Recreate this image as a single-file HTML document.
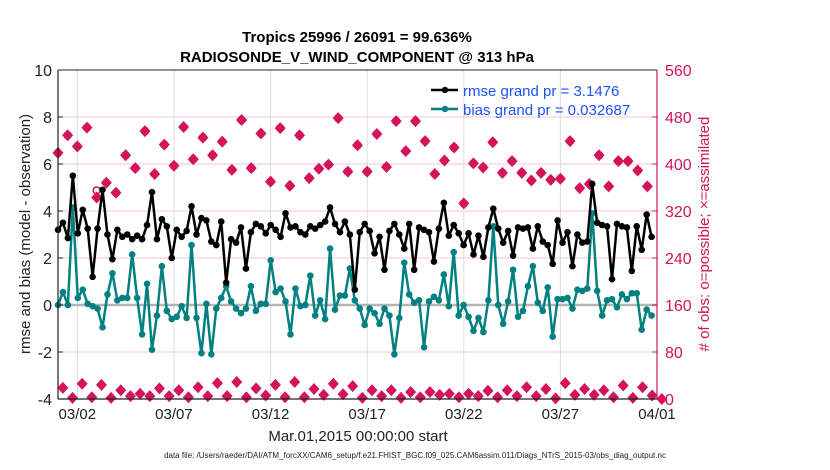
<!DOCTYPE html>
<html><head><meta charset="utf-8">
<style>
body{margin:0;background:#fff;}
svg{display:block;font-family:"Liberation Sans",Arial,sans-serif;}
</style></head>
<body>
<svg id="chart" width="830" height="470" viewBox="0 0 830 470">
<rect width="830" height="470" fill="#fff"/>
<g id="grid"></g>
<g id="counts"></g>
<g id="series"></g>
<g id="axes"></g>
<text x="357" y="42" text-anchor="middle" font-size="15" font-weight="bold">Tropics 25996 / 26091 = 99.636%</text>
<text x="357" y="62" text-anchor="middle" font-size="15" font-weight="bold">RADIOSONDE_V_WIND_COMPONENT @ 313 hPa</text>
<text x="358" y="441" text-anchor="middle" font-size="15" fill="#222">Mar.01,2015 00:00:00 start</text>
<text x="415" y="458" text-anchor="middle" font-size="8" fill="#222">data file: /Users/raeder/DAI/ATM_forcXX/CAM6_setup/f.e21.FHIST_BGC.f09_025.CAM6assim.011/Diags_NTrS_2015-03/obs_diag_output.nc</text>
<text transform="translate(30,234) rotate(-90)" text-anchor="middle" font-size="15" fill="#222">rmse and bias (model - observation)</text>
<text transform="translate(709,234) rotate(-90)" text-anchor="middle" font-size="15" fill="#d4145a"># of obs: o=possible; ×=assimilated</text>
<g>
<line x1="431" y1="90" x2="458" y2="90" stroke="#000" stroke-width="2.5"/>
<circle cx="445" cy="90" r="3.2" fill="#000"/>
<text x="463" y="96" font-size="15" fill="#1a53ff">rmse grand pr = 3.1476</text>
<line x1="431" y1="109" x2="458" y2="109" stroke="#008080" stroke-width="2.5"/>
<circle cx="445" cy="109" r="3.2" fill="#008080"/>
<text x="463" y="115" font-size="15" fill="#1a53ff">bias grand pr = 0.032687</text>
</g>
</svg>
<script>
const rmse = [3.2,3.5,2.85,5.5,3.05,4.05,3.25,1.2,3.25,4.9,3.0,1.95,3.2,2.9,3.0,2.8,2.95,2.8,3.4,4.8,2.8,3.65,3.35,2.0,3.2,2.9,3.15,4.2,3.0,3.7,3.6,2.7,
2.55,3.55,0.95,2.8,2.65,3.3,1.55,3.1,3.45,3.35,3.05,3.4,3.2,2.9,3.9,3.3,3.35,3.1,3.0,3.35,3.25,3.4,3.55,4.15,3.45,3.1,3.55,3.0,0.65,
3.1,3.45,3.15,2.2,2.9,1.5,3.15,3.45,3.0,2.4,3.45,1.5,3.3,3.2,3.1,1.85,3.25,4.35,2.95,3.4,3.05,2.55,3.05,2.15,2.95,2.05,3.3,4.1,3.25,2.65,
3.15,2.1,3.3,3.25,3.3,2.4,3.35,2.7,2.55,1.75,3.6,2.65,3.1,1.65,3.0,2.65,2.7,5.15,3.5,3.4,3.35,1.1,3.45,3.35,3.3,1.45,3.35,2.35,3.85,2.9];
const bias = [0,0.55,0,4.15,0.3,0.65,0.05,-0.05,-0.15,-0.95,0.45,1.35,0.2,0.3,0.3,2.15,0.3,-1.25,0.9,-1.9,-0.45,1.65,-0.25,-0.6,-0.5,-0.05,-0.55,2.55,-0.55,-2.05,0.05,-2.1,
-0.15,0.3,0.8,0.15,-0.15,-0.35,-0.15,0.8,-0.25,0.05,0.05,1.9,0.55,0.7,0.15,-1.25,0.7,-0.05,0,1.25,-0.45,0.2,-0.6,2.4,-0.2,0.4,0.4,1.55,0.2,
-0.15,-0.85,-0.15,-0.35,-0.8,-0.15,-0.45,-2.1,-0.55,1.8,0.45,0.1,0.2,-1.8,0.15,0.35,0.2,1.3,-0.05,2.25,-0.45,0,-0.5,-1.1,-0.55,-1.15,0.2,3.35,0,-0.8,
0.15,1.5,-0.5,-0.25,0.8,1.65,0.1,-0.25,0.75,-1.35,0.25,0.25,0.3,-0.15,0.65,0.6,0.7,3.9,0.6,-0.45,0.2,0.25,-0.1,0.45,0.25,0.5,0.5,-1.05,-0.2,-0.45];
const possibleHigh = [419,449,430,462,355,368,351,415,393,456,383,433,397,463,408,445,
415,438,390,475,393,452,370,461,363,449,376,392,399,478,387,432,
387,451,395,473,422,473,439,383,406,428,333,401,394,437,385,
405,385,372,385,373,375,439,359,366,415,362,405,405,389,362];
const assimHigh = [419,449,430,462,343,368,351,415,393,456,383,433,397,463,408,445,
415,438,390,475,393,452,370,461,363,449,376,392,399,478,387,432,
387,451,395,473,422,473,439,383,406,428,333,401,394,437,385,
405,385,372,385,373,375,439,359,366,415,362,405,405,389,362];
const countsLow = [19,2,26,3,24,2,15,5,9,5,18,5,15,3,20,5,
27,5,29,3,18,6,24,3,29,3,17,7,26,8,22,
2,15,5,15,2,12,3,12,7,9,3,9,5,14,3,15,
5,20,5,17,1,27,7,17,7,15,3,23,2,20,6,0];
const xTickLabels = ["03/02","03/07","03/12","03/17","03/22","03/27","04/01"];
const xTickDays = [1,6,11,16,21,26,31];
const yTickLeft = [-4,-2,0,2,4,6,8,10];
const yTickRight = [0,80,160,240,320,400,480,560];
const seriesStepDays = 0.256;

const L=58,R=657,T=70,B=399;
const NS='http://www.w3.org/2000/svg';
const xs=d=>L+d*(R-L)/31;
const yl=v=>B-(v+4)*(B-T)/14;
const yr=c=>B-c*(B-T)/560;
function mk(tag,attrs,parent){const e=document.createElementNS(NS,tag);for(const k in attrs)e.setAttribute(k,attrs[k]);parent.appendChild(e);return e;}
const grid=document.getElementById('grid'),axes=document.getElementById('axes'),cnt=document.getElementById('counts'),ser=document.getElementById('series');

yTickLeft.forEach(v=>{
  if(v>-4&&v<10&&v!==0){const g=mk('line',{x1:L,x2:R,y1:yl(v),y2:yl(v),stroke:'#f4c6d6','stroke-width':1},grid);
  
  }
  const t=mk('text',{x:L-6,y:yl(v)+6,'text-anchor':'end','font-size':16,fill:'#222'},axes);t.textContent=v;
  
  
  mk('line',{x1:L,x2:L+5,y1:yl(v),y2:yl(v),stroke:'#222'},axes);
});
yTickRight.forEach(c=>{
  const t=mk('text',{x:R+8,y:yr(c)+6,'font-size':16,fill:'#d4145a'},axes);t.textContent=c;
  
  
  mk('line',{x1:R-5,x2:R,y1:yr(c),y2:yr(c),stroke:'#d4145a'},axes);
});
xTickDays.forEach((d,i)=>{
  const g=mk('line',{x1:xs(d),x2:xs(d),y1:T,y2:B,stroke:'#dcdcdc','stroke-width':1},grid);
  
  
  const t=mk('text',{x:xs(d),y:B+20,'text-anchor':'middle','font-size':15,fill:'#222'},axes);t.textContent=xTickLabels[i];
  
  
});
const z=mk('line',{x1:L,x2:R,y1:yl(0),y2:yl(0),stroke:'#b4b4b4','stroke-width':2.5},grid);



function diamond(x,y,parent,name){
  const p=mk('path',{d:`M${x},${y-6}L${x+5.5},${y}L${x},${y+6}L${x-5.5},${y}Z`,fill:'#d4145a'},parent);
  
  
}
possibleHigh.forEach((c,i)=>{
  const x=xs(i*0.5);
  const o=mk('circle',{cx:x,cy:yr(c),r:3.5,fill:'none',stroke:'#d4145a','stroke-width':1.5},cnt);
  
  
  diamond(x,yr(assimHigh[i]),cnt,'assimilated-count');
});
countsLow.forEach((c,i)=>{diamond(xs(0.25+i*0.5),yr(c),cnt,'count-low');});

function drawSeries(vals,color,name){
  const pts=vals.map((v,i)=>[xs(i*seriesStepDays),yl(v)]);
  const pl=mk('polyline',{points:pts.map(p=>p.join(',')).join(' '),fill:'none',stroke:color,'stroke-width':2.5,'stroke-linejoin':'round'},ser);
  
  
  pts.forEach(p=>{const c=mk('circle',{cx:p[0],cy:p[1],r:3.3,fill:color},ser);
    
    });
}
drawSeries(bias,'#008080','bias');
drawSeries(rmse,'#000','rmse');

mk('line',{x1:L,x2:R,y1:T,y2:T,stroke:'#222','stroke-width':1},axes);
mk('line',{x1:L,x2:R,y1:B,y2:B,stroke:'#222','stroke-width':1.2},axes);
mk('line',{x1:L,x2:L,y1:T,y2:B,stroke:'#222','stroke-width':1.2},axes);
mk('line',{x1:R,x2:R,y1:T,y2:B,stroke:'#d4145a','stroke-width':1.2},axes);
</script>
</body></html>
